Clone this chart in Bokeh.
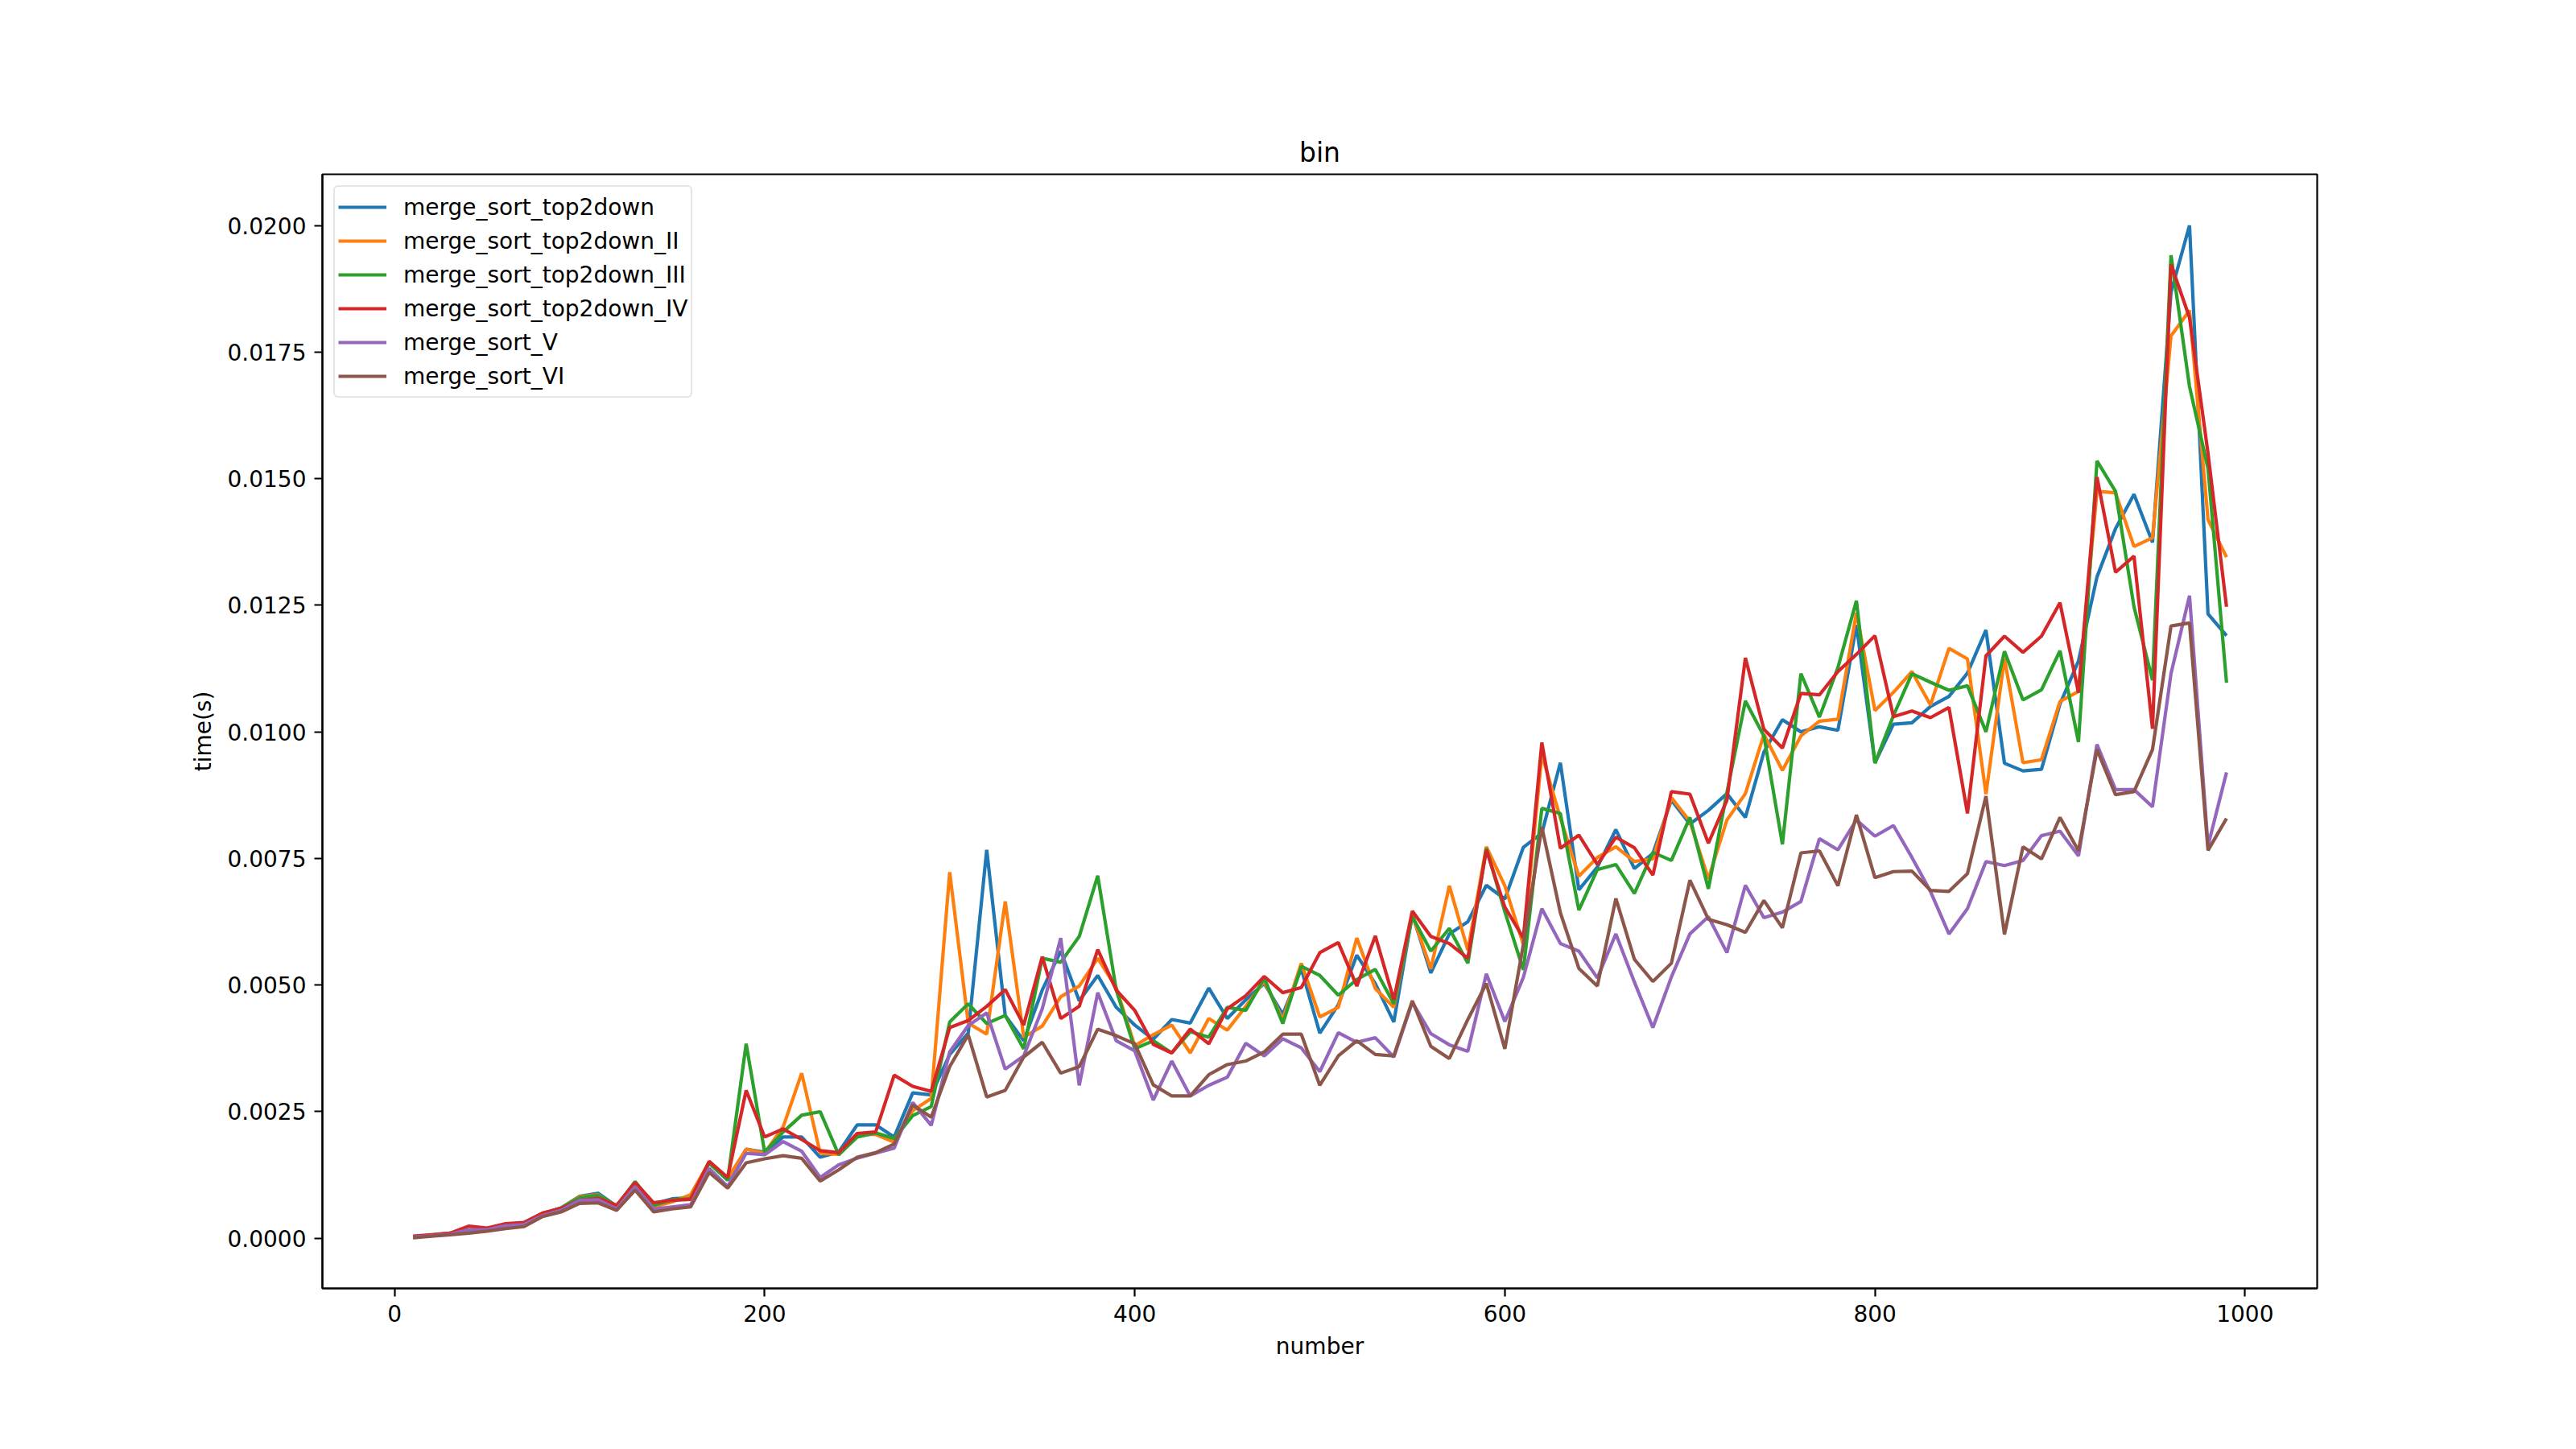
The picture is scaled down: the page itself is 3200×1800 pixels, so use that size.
from bokeh.plotting import figure
from bokeh.models import FixedTicker, PrintfTickFormatter, Range1d, Legend, LegendItem, Label
from bokeh.embed import file_html
from bokeh.resources import INLINE

numbers = list(range(10, 1000, 10))

merge_sort_top2down = [
    0.00003, 0.00006, 0.00009, 0.00016, 0.00018, 0.00027, 0.00031, 0.00049, 0.00060, 0.00083,
    0.00089, 0.00063, 0.00110, 0.00068, 0.00078, 0.00080, 0.00150, 0.00115, 0.00176, 0.00170,
    0.00200, 0.00200, 0.00160, 0.00170, 0.00224, 0.00224, 0.00200, 0.00287, 0.00283, 0.00363,
    0.00405, 0.00767, 0.00440, 0.00390, 0.00490, 0.00567, 0.00469, 0.00519, 0.00456, 0.00421,
    0.00393, 0.00432, 0.00425, 0.00494, 0.00434, 0.00471, 0.00503, 0.00442, 0.00532, 0.00405,
    0.00461, 0.00559, 0.00503, 0.00427, 0.00640, 0.00524, 0.00601, 0.00625, 0.00697, 0.00670,
    0.00772, 0.00800, 0.00939, 0.00688, 0.00733, 0.00807, 0.00730, 0.00760, 0.00865, 0.00818,
    0.00845, 0.00878, 0.00831, 0.00960, 0.01024, 0.01000, 0.01010, 0.01003, 0.01211, 0.00939,
    0.01015, 0.01018, 0.01050, 0.01070, 0.01116, 0.01201, 0.00938, 0.00923, 0.00926, 0.01055,
    0.01140, 0.01306, 0.01401, 0.01469, 0.01374, 0.01868, 0.02000, 0.01233, 0.01190]

merge_sort_top2down_II = [
    0.00003, 0.00006, 0.00010, 0.00015, 0.00020, 0.00026, 0.00030, 0.00048, 0.00059, 0.00082,
    0.00086, 0.00062, 0.00108, 0.00062, 0.00072, 0.00086, 0.00150, 0.00118, 0.00176, 0.00168,
    0.00220, 0.00326, 0.00168, 0.00166, 0.00205, 0.00205, 0.00190, 0.00252, 0.00276, 0.00723,
    0.00425, 0.00403, 0.00665, 0.00397, 0.00419, 0.00477, 0.00498, 0.00553, 0.00495, 0.00380,
    0.00402, 0.00421, 0.00366, 0.00434, 0.00411, 0.00458, 0.00508, 0.00432, 0.00543, 0.00437,
    0.00456, 0.00593, 0.00493, 0.00456, 0.00639, 0.00532, 0.00696, 0.00569, 0.00773, 0.00696,
    0.00580, 0.00955, 0.00830, 0.00715, 0.00752, 0.00773, 0.00744, 0.00749, 0.00870, 0.00823,
    0.00710, 0.00826, 0.00878, 0.00995, 0.00924, 0.00992, 0.01021, 0.01025, 0.01235, 0.01042,
    0.01078, 0.01119, 0.01053, 0.01165, 0.01144, 0.00877, 0.01145, 0.00939, 0.00945, 0.01060,
    0.01080, 0.01475, 0.01472, 0.01366, 0.01383, 0.01782, 0.01832, 0.01419, 0.01345]

merge_sort_top2down_III = [
    0.00003, 0.00006, 0.00010, 0.00015, 0.00019, 0.00026, 0.00030, 0.00048, 0.00060, 0.00080,
    0.00085, 0.00064, 0.00112, 0.00065, 0.00076, 0.00078, 0.00148, 0.00115, 0.00384, 0.00170,
    0.00210, 0.00243, 0.00250, 0.00165, 0.00200, 0.00208, 0.00197, 0.00242, 0.00260, 0.00427,
    0.00463, 0.00424, 0.00440, 0.00374, 0.00553, 0.00545, 0.00596, 0.00716, 0.00490, 0.00374,
    0.00390, 0.00366, 0.00408, 0.00397, 0.00456, 0.00450, 0.00514, 0.00424, 0.00537, 0.00519,
    0.00480, 0.00511, 0.00531, 0.00463, 0.00635, 0.00567, 0.00612, 0.00543, 0.00770, 0.00645,
    0.00530, 0.00849, 0.00839, 0.00648, 0.00728, 0.00738, 0.00681, 0.00762, 0.00746, 0.00831,
    0.00690, 0.00880, 0.01061, 0.00992, 0.00778, 0.01115, 0.01029, 0.01127, 0.01259, 0.00938,
    0.01032, 0.01115, 0.01098, 0.01082, 0.01091, 0.01000, 0.01159, 0.01063, 0.01083, 0.01160,
    0.00980, 0.01535, 0.01475, 0.01247, 0.01102, 0.01941, 0.01682, 0.01520, 0.01097]

merge_sort_top2down_IV = [
    0.00004, 0.00007, 0.00010, 0.00024, 0.00020, 0.00029, 0.00031, 0.00050, 0.00059, 0.00075,
    0.00079, 0.00065, 0.00110, 0.00070, 0.00075, 0.00077, 0.00152, 0.00120, 0.00292, 0.00200,
    0.00216, 0.00195, 0.00173, 0.00169, 0.00207, 0.00210, 0.00322, 0.00300, 0.00290, 0.00416,
    0.00430, 0.00458, 0.00491, 0.00421, 0.00556, 0.00434, 0.00458, 0.00570, 0.00490, 0.00450,
    0.00383, 0.00366, 0.00413, 0.00384, 0.00453, 0.00479, 0.00517, 0.00485, 0.00495, 0.00564,
    0.00584, 0.00498, 0.00597, 0.00471, 0.00646, 0.00596, 0.00582, 0.00553, 0.00767, 0.00654,
    0.00593, 0.00979, 0.00770, 0.00796, 0.00738, 0.00792, 0.00771, 0.00717, 0.00882, 0.00877,
    0.00780, 0.00865, 0.01146, 0.01005, 0.00968, 0.01076, 0.01073, 0.01119, 0.01153, 0.01190,
    0.01030, 0.01041, 0.01028, 0.01048, 0.00839, 0.01150, 0.01189, 0.01157, 0.01189, 0.01255,
    0.01077, 0.01503, 0.01315, 0.01347, 0.01006, 0.01923, 0.01818, 0.01550, 0.01247]

merge_sort_V = [
    0.00002, 0.00005, 0.00008, 0.00017, 0.00017, 0.00025, 0.00027, 0.00045, 0.00055, 0.00075,
    0.00076, 0.00058, 0.00102, 0.00058, 0.00062, 0.00066, 0.00138, 0.00102, 0.00168, 0.00165,
    0.00191, 0.00172, 0.00120, 0.00145, 0.00158, 0.00168, 0.00178, 0.00268, 0.00223, 0.00368,
    0.00420, 0.00445, 0.00334, 0.00360, 0.00453, 0.00593, 0.00302, 0.00485, 0.00390, 0.00370,
    0.00273, 0.00350, 0.00281, 0.00302, 0.00318, 0.00385, 0.00360, 0.00394, 0.00376, 0.00329,
    0.00406, 0.00387, 0.00396, 0.00358, 0.00466, 0.00404, 0.00382, 0.00369, 0.00522, 0.00428,
    0.00515, 0.00651, 0.00582, 0.00567, 0.00514, 0.00601, 0.00506, 0.00416, 0.00516, 0.00601,
    0.00635, 0.00564, 0.00697, 0.00633, 0.00644, 0.00665, 0.00789, 0.00767, 0.00826, 0.00794,
    0.00815, 0.00752, 0.00685, 0.00601, 0.00651, 0.00744, 0.00736, 0.00746, 0.00795, 0.00804,
    0.00755, 0.00975, 0.00886, 0.00886, 0.00852, 0.01115, 0.01269, 0.00775, 0.00920]

merge_sort_VI = [
    0.00001, 0.00004, 0.00007, 0.00010, 0.00014, 0.00019, 0.00023, 0.00043, 0.00052, 0.00069,
    0.00070, 0.00055, 0.00095, 0.00052, 0.00058, 0.00062, 0.00130, 0.00099, 0.00149, 0.00157,
    0.00163, 0.00158, 0.00113, 0.00135, 0.00160, 0.00169, 0.00186, 0.00263, 0.00239, 0.00339,
    0.00402, 0.00279, 0.00292, 0.00358, 0.00387, 0.00326, 0.00339, 0.00413, 0.00400, 0.00384,
    0.00303, 0.00281, 0.00281, 0.00323, 0.00343, 0.00350, 0.00368, 0.00403, 0.00403, 0.00302,
    0.00360, 0.00390, 0.00363, 0.00360, 0.00469, 0.00379, 0.00355, 0.00432, 0.00503, 0.00374,
    0.00580, 0.00812, 0.00643, 0.00533, 0.00498, 0.00671, 0.00551, 0.00507, 0.00543, 0.00707,
    0.00630, 0.00619, 0.00604, 0.00667, 0.00613, 0.00761, 0.00765, 0.00696, 0.00836, 0.00712,
    0.00724, 0.00725, 0.00687, 0.00685, 0.00720, 0.00873, 0.00600, 0.00773, 0.00749, 0.00831,
    0.00765, 0.00965, 0.00876, 0.00882, 0.00965, 0.01209, 0.01215, 0.00766, 0.00829]

series_names = ["merge_sort_top2down", "merge_sort_top2down_II", "merge_sort_top2down_III",
                "merge_sort_top2down_IV", "merge_sort_V", "merge_sort_VI"]
series_values = [merge_sort_top2down, merge_sort_top2down_II, merge_sort_top2down_III,
                 merge_sort_top2down_IV, merge_sort_V, merge_sort_VI]
colors = ["#1f77b4", "#ff7f0e", "#2ca02c", "#d62728", "#9467bd", "#8c564b"]

x_ticks = [0, 200, 400, 600, 800, 1000]
y_ticks = [0.0, 0.0025, 0.005, 0.0075, 0.01, 0.0125, 0.015, 0.0175, 0.02]

FONT = "DejaVu Sans"

p = figure(frame_width=2478, frame_height=1384,
           min_border_left=400, min_border_right=322,
           min_border_top=216, min_border_bottom=200,
           x_range=Range1d(-39, 1039), y_range=Range1d(-0.00099, 0.02101),
           output_backend="svg", toolbar_location=None, title="bin")

p.background_fill_color = "white"
p.border_fill_color = "white"
p.outline_line_color = "black"
p.outline_line_width = 2.2
p.xgrid.visible = False
p.ygrid.visible = False

p.title.align = "center"
p.title.text_font = FONT
p.title.text_font_size = "33px"
p.title.text_font_style = "normal"
p.title.text_color = "black"
p.title.standoff = 16

for ax in (p.xaxis[0], p.yaxis[0]):
    ax.axis_line_color = "black"
    ax.axis_line_width = 2.2
    ax.major_tick_line_color = "black"
    ax.major_tick_line_width = 2.2
    ax.major_tick_out = 10
    ax.major_tick_in = 0
    ax.minor_tick_out = 0
    ax.minor_tick_in = 0
    ax.major_label_text_font = FONT
    ax.major_label_text_font_size = "28px"
    ax.major_label_text_color = "black"
    ax.major_label_standoff = 10
    ax.axis_label_text_font = FONT
    ax.axis_label_text_font_size = "28px"
    ax.axis_label_text_font_style = "normal"
    ax.axis_label_text_color = "black"
    ax.axis_label_standoff = 11

p.xaxis.ticker = FixedTicker(ticks=x_ticks)
p.yaxis.ticker = FixedTicker(ticks=y_ticks)
p.yaxis.formatter = PrintfTickFormatter(format="%.4f")
p.xaxis.axis_label = "number"
p.yaxis.axis_label = "time(s)"

items = []
for name, vals, c in zip(series_names, series_values, colors):
    r = p.line(numbers, vals, line_color=c, line_width=4.2)
    items.append(LegendItem(label=name, renderers=[r]))

legend = Legend(items=items, location="top_left")
legend.label_text_font = FONT
legend.label_text_font_size = "28px"
legend.label_text_color = "black"
legend.glyph_width = 60
legend.glyph_height = 42
legend.label_height = 42
legend.label_standoff = 21
legend.spacing = 0
legend.padding = 4
legend.margin = 14
legend.border_line_color = "#cccccc"
legend.border_line_width = 2.5
legend.border_radius = 6
legend.background_fill_color = "white"
legend.background_fill_alpha = 0.8
p.add_layout(legend, "center")

# watermark in the bottom-right corner of the page (screen units are frame-relative)
wm = Label(x=2790, y=-182, x_units="screen", y_units="screen",
           text="https://blog.csdn.net/GrayOnDream", text_font="Liberation Sans",
           text_font_size="14px", text_color="#e6e6e6", text_baseline="middle",
           text_align="right")
p.add_layout(wm)

open("out.html", "w").write(file_html(p, INLINE))
